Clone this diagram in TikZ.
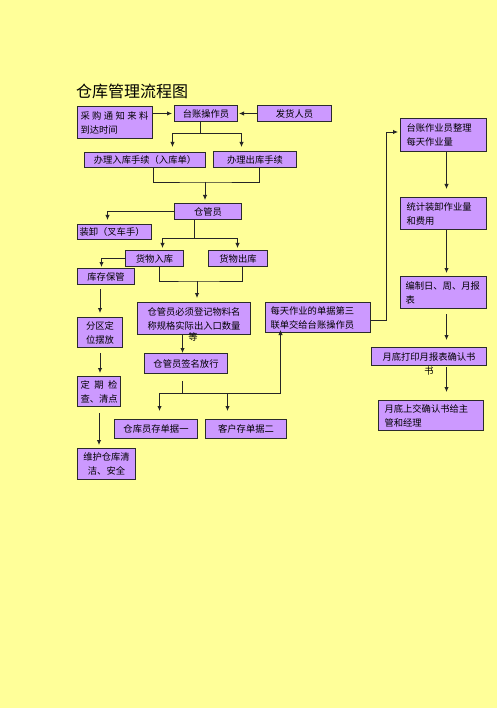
\documentclass[tikz,border=0pt]{standalone}
\usepackage{fontspec}
\setmainfont{Noto Sans CJK SC}
\usetikzlibrary{arrows.meta,calc}
\definecolor{bgyellow}{HTML}{FFFF99}
\definecolor{boxpurple}{HTML}{CC99FF}
\definecolor{edgegray}{HTML}{2B2B2B}
\newcommand\flowbox[8][3]{%
  \pgfmathsetlengthmacro\fbw{(#5-(#3))*1pt-2*#1pt}%
  \node[boxst, anchor=north west, inner xsep=#1pt, text width=\fbw, minimum height={(#6-(#4))*1pt}, align=#7] (#2) at (#3,#4) {#8};}
\begin{document}
\begin{tikzpicture}[x=1pt,y=-1pt,
  boxst/.style={draw=edgegray, line width=1pt, fill=boxpurple, inner ysep=0pt,
    text=black, font=\fontsize{9.3}{14}\selectfont},
  txt/.style={inner sep=0pt, text=black, font=\fontsize{9.3}{14}\selectfont},
  conn/.style={draw=black!85, line width=0.9pt},
  arr/.style={conn, -{Latex[length=5pt,width=4.5pt]}},
  titlest/.style={inner sep=0pt, text=black, font=\fontsize{16}{18}\selectfont}]
\useasboundingbox (0,0) rectangle (500,708);
\fill[bgyellow] (0,0) rectangle (497,708);

\node[titlest, anchor=west] (title) at (76,91) {仓库管理流程图};

% boxes
\flowbox{A}{77}{106}{152}{138}{left}{\makebox[68pt][s]{采\hfill 购\hfill 通\hfill 知\hfill 来\hfill 料}\\到达时间}
\flowbox{B}{174}{105}{237}{121}{center}{台账操作员}
\flowbox{C}{257}{105}{331}{121}{center}{发货人员}
\flowbox{D}{84}{152}{205}{167}{center}{办理入库手续（入库单）}
\flowbox{E}{213}{151}{296}{167}{center}{办理出库手续}
\flowbox{F}{174}{203}{241}{219}{center}{仓管员}
\flowbox[2]{G}{77}{224}{151}{239}{left}{装卸（叉车手）}
\flowbox{H}{125}{250}{183}{266}{center}{货物入库}
\flowbox{I}{208}{250}{267}{266}{center}{货物出库}
\flowbox{J}{77}{268}{134}{284}{center}{库存保管}
\flowbox{K}{137}{302}{250}{334}{center}{仓管员必须登记物料名\\称规格实际出入口数量}
\node[txt] (Kx) at (193,337) {等};
\flowbox[5]{L}{265}{302}{370}{332}{left}{每天作业的单据第三\\联单交给台账操作员}
\flowbox{R}{77}{317}{122}{347}{center}{分区定\\位摆放}
\flowbox{S}{77}{376}{120}{406}{center}{\makebox[37pt][s]{定\hfill 期\hfill 检}\\查、清点}
\flowbox{T}{77}{448}{135}{479}{center}{维护仓库清\\洁、安全}
\flowbox{U}{144}{353}{227}{373}{center}{仓管员签名放行}
\flowbox{V}{114}{419}{197}{438}{center}{仓库员存单据一}
\flowbox{W}{205}{419}{286}{438}{center}{客户存单据二}
\flowbox[6]{M}{400}{118}{486}{151}{left}{台账作业员整理\\每天作业量}
\flowbox[6]{N}{400}{197}{486}{229}{left}{统计装卸作业量\\和费用}
\flowbox[5]{O}{400}{276}{486}{308}{left}{编制日、周、月报\\表}
\flowbox{P}{371}{347}{486}{365}{center}{月底打印月报表确认书}
\node[txt] (Px) at (429,371) {书};
\flowbox[6]{Q}{378}{400}{483}{430}{left}{月底上交确认书给主\\管和经理}

% connectors: top
\draw[arr, shorten >=2pt] (A.east |- B.west) -- (B.west);
\draw[arr, shorten >=1pt] (C.west) -- (B.east);
\coordinate (bj) at (200,133);
\draw[conn] (bj |- B.south) -- (bj);
\draw[arr, shorten >=5pt] (bj) -| ([xshift=27.5pt]D.north);
\draw[arr, shorten >=4pt] (bj) -| ([xshift=-13.5pt]E.north);
\coordinate (dj) at (205,182);
\draw[conn] ([xshift=8.5pt]D.south) |- (dj) -| ([xshift=4.5pt]E.south);
\draw[arr, shorten >=3pt] (dj) -- (dj |- F.north);

% from F
\draw[arr, shorten >=4pt] (F.west) -| ([xshift=-7pt]G.north);
\coordinate (fj) at (194,238);
\draw[conn] (fj |- F.south) -- (fj);
\draw[arr, shorten >=2pt] (fj) -| ([xshift=8pt]H.north);
\draw[arr, shorten >=2pt] (fj) -| ([xshift=-0.5pt]I.north);

% from H / I
\draw[arr, shorten >=1pt] (H.west) -| ([xshift=-4.5pt]J.north);
\coordinate (hj) at (197,281);
\draw[conn] ([xshift=5pt]H.south) |- (hj) -| ([xshift=4.5pt]I.south);
\draw[arr, shorten >=4pt] (hj) -- (hj |- K.north);

% left column
\draw[arr, shorten <=4pt, shorten >=4pt] (J.south -| R.north) -- (R.north);
\draw[arr, shorten <=5pt, shorten >=3pt] (R.south) -- (R.south |- S.north);
\draw[arr, shorten <=6pt, shorten >=3pt] (S.south) -- (S.south |- T.north);

% K -> U -> V, W, L
\draw[arr] ([xshift=-11.5pt]K.south) -- ([xshift=-11.5pt]K.south |- U.north);
\coordinate (uj) at (182,393);
\draw[conn, shorten <=7pt] (uj |- U.south) -- (uj);
\draw[arr, shorten >=8pt] (uj) -| ([xshift=3.5pt]V.north);
\draw[arr, shorten >=8pt] (uj) -| ([xshift=-18.5pt]W.north);
\draw[arr, shorten >=-3pt] (uj) -| ([xshift=-37.5pt]L.south);

% L -> M
\coordinate (lm) at (386,132);
\draw[arr, shorten >=2pt] ([yshift=-3pt]L.east) -| (lm) -- (lm -| M.west);

% right column
\draw[arr, shorten >=8pt] ([xshift=3pt]M.south) -- ([xshift=3pt]M.south |- N.north);
\draw[arr, shorten >=3pt] ([xshift=3pt]N.south) -- ([xshift=3pt]N.south |- O.north);
\draw[arr, shorten <=5pt, shorten >=7pt] ([xshift=3pt]O.south) -- ([xshift=3pt]O.south |- P.north);
\draw[arr, shorten <=1pt, shorten >=8pt] ([xshift=17.5pt]P.south) -- ([xshift=17.5pt]P.south |- Q.north);
\end{tikzpicture}
\end{document}
